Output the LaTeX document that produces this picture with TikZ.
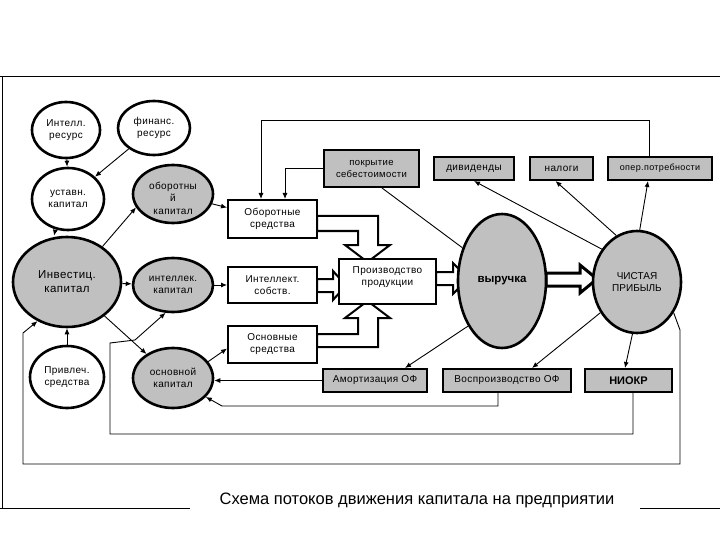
\documentclass[tikz,border=0pt]{standalone}
\usepackage{fontspec}
\setmainfont{Liberation Sans}[LetterSpace=4]
\newfontfamily\plainfont{Liberation Sans}
\usetikzlibrary{shapes.geometric,arrows.meta,backgrounds}
\definecolor{gfill}{HTML}{C0C0C0}
\begin{document}
\begin{tikzpicture}[x=1pt,y=-1pt,
 every node/.style={font=\fontsize{10}{12}\selectfont, align=center},
 ell/.style={ellipse, draw, line width=2.6pt, inner sep=0pt, fill=white},
 gell/.style={ell, fill=gfill},
 box/.style={rectangle, draw, line width=2pt, inner sep=0pt, fill=white},
 gbox/.style={box, fill=gfill},
 arr/.style={line width=0.9pt, -{Latex[length=6pt,width=5pt]}},
 ln/.style={line width=0.9pt},
 hol/.style={draw, line width=2pt, fill=white, line join=miter},
 frame/.style={line width=1pt}]
\useasboundingbox (0,0) rectangle (720,540);

% frame
\draw[frame] (0,77) -- (720,77);
\draw[frame] (2,77) -- (2,508);
\draw[frame] (0,508) -- (190,508);
\draw[frame] (640,508) -- (720,508);

% ellipses
\node[ell, minimum width=68pt, minimum height=56pt] (ir) at (66,130) {Интелл.\\ресурс};
\node[ell, minimum width=72pt, minimum height=54pt] (fr) at (154,128) {финанс.\\ресурс};
\node[ell, minimum width=72pt, minimum height=62pt] (ust) at (68,199) {уставн.\\капитал};
\node[gell, minimum width=80pt, minimum height=58pt,
      label={[yshift=-4pt, font=\fontsize{10}{12.5}\selectfont]center:оборотны\\й\\капитал}] (obr) at (173,194) {};
\node[gell, minimum width=108pt, minimum height=90pt, font=\fontsize{11.5}{14}\selectfont] (inv) at (67,282) {Инвестиц.\\капитал};
\node[gell, minimum width=80pt, minimum height=54pt] (int) at (173,285) {интеллек.\\капитал};
\node[ell, minimum width=74pt, minimum height=62pt] (prv) at (67,377) {Привлеч.\\средства};
\node[gell, minimum width=80pt, minimum height=60pt] (osn) at (173,378) {основной\\капитал};
\node[gell, minimum width=88pt, minimum height=134pt, font=\plainfont\fontsize{11.5}{13}\bfseries] (vyr) at (502,281) {выручка};
\node[gell, minimum width=88pt, minimum height=102pt, font=\plainfont\fontsize{10}{12.5}\selectfont] (ch) at (637,282) {ЧИСТАЯ\\ПРИБЫЛЬ};

% boxes
\node[box, minimum width=89pt, minimum height=38pt] (os) at (272.5,219) {Оборотные\\средства};
\node[box, minimum width=89pt, minimum height=36pt] (ins) at (272.5,285) {Интеллект.\\собств.};
\node[box, minimum width=89pt, minimum height=37pt] (osr) at (272.5,344.5) {Основные\\средства};
\node[box, minimum width=97pt, minimum height=45pt,
      label={[yshift=4.5pt]center:Производство\\продукции}] (prod) at (387.5,281.5) {};
\node[gbox, minimum width=95pt, minimum height=37pt, font=\fontsize{9.5}{12}\selectfont] (pok) at (371.5,168.5) {покрытие\\себестоимости};
\node[gbox, minimum width=80pt, minimum height=23pt] (div) at (474,168.5) {дивиденды};
\node[gbox, minimum width=63pt, minimum height=23pt] (nal) at (561.5,168.5) {налоги};
\node[gbox, minimum width=104pt, minimum height=23pt, font=\fontsize{9}{11}\selectfont] (op) at (660,168.5) {опер.потребности};
\node[gbox, minimum width=104pt, minimum height=23pt] (am) at (375,380.5) {Амортизация ОФ};
\node[gbox, minimum width=128pt, minimum height=23pt] (vos) at (507,380.5) {Воспроизводство ОФ};
\node[gbox, minimum width=87pt, minimum height=23pt, font=\plainfont\fontsize{11}{13}\bfseries] (niokr) at (628.5,380.5) {НИОКР};

% title
\node[font=\plainfont\fontsize{16.5}{19}\selectfont] (title) at (417,500) {Схема потоков движения капитала на предприятии};

% hollow block arrows (behind the nodes)
\begin{scope}[on background layer]
\draw[hol] (317,216) -- (378,216) -- (378,245) -- (390,245) -- (367.5,262) -- (345,245) -- (358,245) -- (358,231) -- (317,231) -- cycle;
\draw[hol] (317,334) -- (358,334) -- (358,318) -- (345,318) -- (367.5,301) -- (390,318) -- (378,318) -- (378,347) -- (317,347) -- cycle;
\draw[hol] (317,279) -- (333,279) -- (333,271) -- (346,285.5) -- (333,300) -- (333,292) -- (317,292) -- cycle;
\draw[hol] (436,272) -- (453,272) -- (453,263) -- (468,278.5) -- (453,294) -- (453,285) -- (436,285) -- cycle;
\draw[hol, line width=3pt] (546,273) -- (580,273) -- (580,265) -- (597,279) -- (580,293) -- (580,286) -- (546,286) -- cycle;
\end{scope}

% connectors
\draw[arr] (ir) -- (ust);
\draw[arr] (fr) -- (ust);
\draw[arr] ([xshift=-13pt]ust.south) -- ([xshift=-13pt]inv.north);
\draw[arr] (inv.45) -- (obr.200);
\draw[arr] (obr) -- (os);
\draw[arr] (inv) -- (int);
\draw[arr] (int) -- (ins);
\draw[arr] (inv) -- (osn);
\draw[arr] (osn.25) -- ([yshift=-4pt]osr.west);
\draw[arr] (prv) -- (inv);
\draw[arr] (ch.-40) -- (680,330) -- (680,464) -- (23,464) -- (23,333) -- (inv.233);
\draw[arr] ([xshift=4.5pt]niokr.south) -- (633,434) -- (110,434) -- (110,343) -- (135,340) -- (int.255);
\draw[arr] ([xshift=-9pt]vos.south) -- (498,406) -- (222,406) -- (osn.-30);
\draw[arr] (am.west) -- (am.west -| osn.east);
\draw[arr] (vyr.233) -- ([xshift=30pt]am.north);
\draw[arr] (ch.220) -- ([xshift=25pt]vos.north);
\draw[arr] (ch.265) -- ([xshift=-3.5pt]niokr.north);
\draw[arr] (ch.137) -- (div.south);
\draw[arr] (ch.114) -- ([xshift=-6pt]nal.south);
\draw[arr] (ch.87) -- ([xshift=-12pt]op.south);
\draw[arr] ([xshift=-11pt]op.north) -- ++(0,-36) -| ([xshift=-11.5pt]os.north);
\draw[arr] (pok.west) -| ([xshift=12.5pt]os.north);
\draw[ln] ([xshift=10.5pt]pok.south) -- (vyr.140);
\end{tikzpicture}
\end{document}
